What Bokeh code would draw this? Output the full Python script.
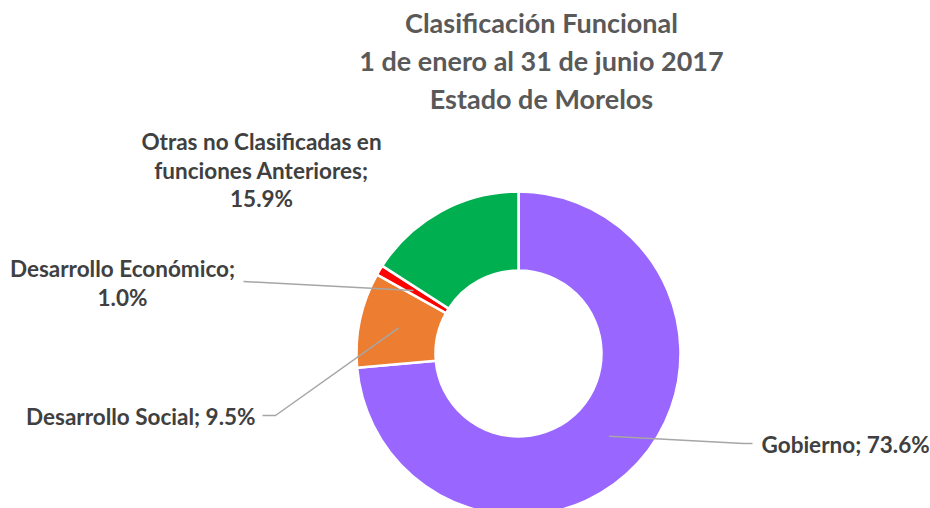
import math
from bokeh.plotting import figure
from bokeh.models import Range1d, ColumnDataSource
from bokeh.core.properties import value
from bokeh.embed import file_html
from bokeh.resources import INLINE

# ---- data ----
categories = ["Gobierno", "Desarrollo Social", "Desarrollo Económico",
              "Otras no Clasificadas en funciones Anteriores"]
shares = [73.6, 9.5, 1.0, 15.9]
colors = ["#9966FF", "#ED7D31", "#FF0000", "#00B050"]
title_lines = ["Clasificación Funcional", "1 de enero al 31 de junio 2017", "Estado de Morelos"]

# ---- layout (screen-pixel coordinates; y data = H - screen y) ----
W, H = 930, 508
def Y(s):
    return H - s

cx, cy = 518, Y(353)
r_out, r_in = 162, 83
r_mid = (r_out + r_in) / 2

p = figure(width=W, height=H, output_backend="svg", toolbar_location=None,
           x_range=Range1d(0, W), y_range=Range1d(0, H),
           min_border=0)
p.axis.visible = False
p.grid.visible = False
p.outline_line_color = None
p.background_fill_color = "white"

total = sum(shares)
starts, ends, mids = [], [], []
acc = 0.0
for s in shares:
    f0 = acc / total
    acc += s
    f1 = acc / total
    starts.append(math.pi / 2 - 2 * math.pi * f0)
    ends.append(math.pi / 2 - 2 * math.pi * f1)
    mids.append(math.pi / 2 - 2 * math.pi * (f0 + f1) / 2)

src = ColumnDataSource(dict(cat=categories, start=starts, end=ends, color=colors))
p.annular_wedge(x=cx, y=cy, inner_radius=r_in, outer_radius=r_out,
                start_angle="start", end_angle="end", direction="clock",
                fill_color="color", line_color="white", line_width=2.5, source=src)

# leader lines: start at slice middle, go to label
leader_ends = {
    0: [(743, 443), (752, 443)],
    1: [(275, 415), (262, 415)],
    2: [(243, 281)],
}
for i, pts in leader_ends.items():
    sx = cx + r_mid * math.cos(mids[i])
    sy = cy + r_mid * math.sin(mids[i])
    xs = [sx] + [q[0] for q in pts]
    ys = [sy] + [Y(q[1]) for q in pts]
    p.line(xs, ys, line_color="#A6A6A6", line_width=1.5)

font = value("Lato")
lab_color = "#404040"
fs = "22.5px"

def fmt(v):
    return f"{v:.1f}%"

# Gobierno
p.text(x=[761], y=[Y(444)], text=[f"{categories[0]}; {fmt(shares[0])}"],
       text_font=font, text_font_style="bold", text_font_size=fs,
       text_color=lab_color, text_align="left", text_baseline="middle")
# Desarrollo Social
p.text(x=[255], y=[Y(416)], text=[f"{categories[1]}; {fmt(shares[1])}"],
       text_font=font, text_font_style="bold", text_font_size=fs,
       text_color=lab_color, text_align="right", text_baseline="middle")
# Desarrollo Económico
p.text(x=[122, 122], y=[Y(268), Y(297)],
       text=[f"{categories[2]};", fmt(shares[2])],
       text_font=font, text_font_style="bold", text_font_size=fs,
       text_color=lab_color, text_align="center", text_baseline="middle")
# Otras
p.text(x=[261, 261, 261], y=[Y(141), Y(170), Y(198)],
       text=["Otras no Clasificadas en", "funciones Anteriores;", fmt(shares[3])],
       text_font=font, text_font_style="bold", text_font_size=fs,
       text_color=lab_color, text_align="center", text_baseline="middle")

# title
p.text(x=[541] * 3, y=[Y(22), Y(60), Y(98)], text=title_lines,
       text_font=font, text_font_style="bold", text_font_size="27px",
       text_color="#595959", text_align="center", text_baseline="middle")

open("out.html", "w").write(file_html(p, INLINE))
